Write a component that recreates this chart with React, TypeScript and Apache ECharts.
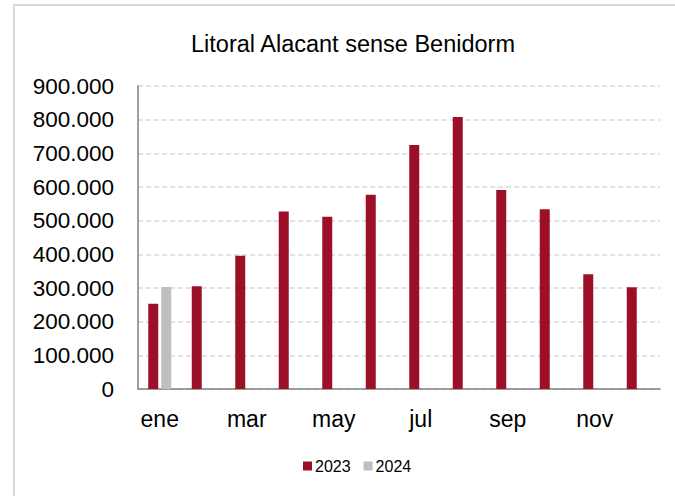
import React, { useEffect, useRef } from "react";
import * as echarts from "echarts";

const months = ["ene", "feb", "mar", "abr", "may", "jun", "jul", "ago", "sep", "oct", "nov", "dic"];
const values2023 = [253000, 305000, 396000, 527000, 512000, 577000, 725000, 808000, 591000, 534000, 341000, 302000];
const values2024: (number | null)[] = [303000, null, null, null, null, null, null, null, null, null, null, null];
const seriesNames = ["2023", "2024"];
const titleText = "Litoral Alacant sense Benidorm";

const fmt = (v: number) => String(Math.round(v)).replace(/\B(?=(\d{3})+(?!\d))/g, ".");

export default function App() {
  const ref = useRef<HTMLDivElement>(null);
  useEffect(() => {
    document.body.style.margin = "0";
    if (!ref.current) return;
    const chart = echarts.init(ref.current, null, { renderer: "svg" });
    const font = "'Liberation Sans', Arial, sans-serif";
    chart.setOption({
      animation: false,
      backgroundColor: "#ffffff",
      graphic: [
        {
          type: "rect",
          shape: { x: 14, y: 5, width: 720, height: 540 },
          style: { fill: "none", stroke: "#d9d9d9", lineWidth: 2 },
          silent: true,
        },
      ],
      title: {
        text: titleText,
        left: 186,
        top: 27,
        textStyle: { fontFamily: font, fontSize: 23.5, fontWeight: "normal", color: "#000" },
      },
      legend: {
        data: seriesNames,
        left: 298,
        top: 453,
        icon: "rect",
        itemWidth: 9,
        itemHeight: 9,
        itemGap: 13,
        textStyle: { fontFamily: font, fontSize: 16, color: "#000", padding: [0, 0, 0, -2] },
      },
      grid: { left: 138, right: 15, top: 86, bottom: 107, containLabel: false },
      xAxis: {
        type: "category",
        data: months,
        axisLine: { show: true, lineStyle: { color: "#808080", width: 1.5 } },
        axisTick: { show: false },
        axisLabel: {
          interval: 1,
          margin: 18,
          fontFamily: font,
          fontSize: 23,
          color: "#000",
        },
      },
      yAxis: {
        type: "value",
        min: 0,
        max: 900000,
        interval: 100000,
        axisLine: { show: true, lineStyle: { color: "#808080", width: 1.5 } },
        axisTick: { show: false },
        splitLine: { show: true, lineStyle: { color: "#d9d9d9", type: [5, 3], width: 1.5 } },
        axisLabel: {
          margin: 24,
          fontFamily: font,
          fontSize: 22.5,
          color: "#000",
          formatter: (v: number) => fmt(v),
        },
      },
      series: [
        {
          name: seriesNames[0],
          type: "bar",
          data: values2023,
          barWidth: 10,
          barGap: "30%",
          itemStyle: { color: "#9b1026" },
        },
        {
          name: seriesNames[1],
          type: "bar",
          data: values2024,
          barWidth: 10,
          barGap: "30%",
          itemStyle: { color: "#bfbfbf" },
        },
      ],
    });
    return () => chart.dispose();
  }, []);
  return <div ref={ref} style={{ width: 675, height: 496 }} />;
}
